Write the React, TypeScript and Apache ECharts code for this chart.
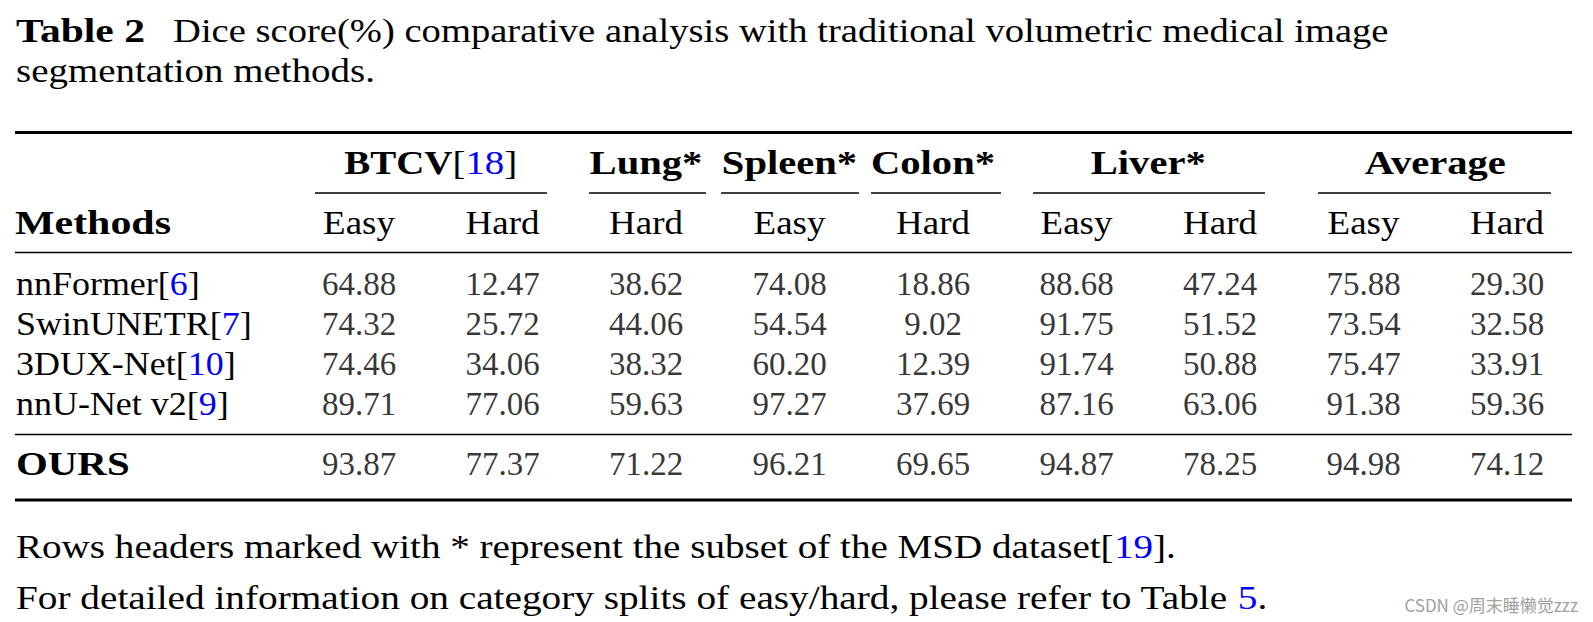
import React, { useEffect, useRef } from "react";
import * as echarts from "echarts";

// ---------- data ----------
const methods = ["nnFormer", "SwinUNETR", "3DUX-Net", "nnU-Net v2"];
const methodRefs = ["6", "7", "10", "9"];
const oursName = ["OURS"];
const groups = ["BTCV", "Lung*", "Spleen*", "Colon*", "Liver*", "Average"];
const groupRefs = ["18", "", "", "", "", ""];
const groupSpans = [2, 1, 1, 1, 2, 2];
const subHeaders = ["Easy", "Hard", "Hard", "Easy", "Hard", "Easy", "Hard", "Easy", "Hard"];
const nnFormer = [64.88, 12.47, 38.62, 74.08, 18.86, 88.68, 47.24, 75.88, 29.3];
const swinUNETR = [74.32, 25.72, 44.06, 54.54, 9.02, 91.75, 51.52, 73.54, 32.58];
const dux3 = [74.46, 34.06, 38.32, 60.2, 12.39, 91.74, 50.88, 75.47, 33.91];
const nnUNetV2 = [89.71, 77.06, 59.63, 97.27, 37.69, 87.16, 63.06, 91.38, 59.36];
const ours = [93.87, 77.37, 71.22, 96.21, 69.65, 94.87, 78.25, 94.98, 74.12];
const captionTitle = "Table 2";
const captionLine1 = "Dice score(%) comparative analysis with traditional volumetric medical image";
const captionLine2 = "segmentation methods.";
const methodsHeader = "Methods";
const note1 = "Rows headers marked with * represent the subset of the MSD dataset";
const note1Ref = "19";
const note2 = "For detailed information on category splits of easy/hard, please refer to Table ";
const note2Ref = "5";
const watermark = "CSDN @周末睡懒觉zzz";

// ---------- layout ----------
const FONT = "'Liberation Serif', 'DejaVu Serif', serif";
const FS = 33;
const BLUE = "#0000ff";
const COL_W = 143.5;
const COL_LEFT = 287.25;
const GRID_W = COL_W * 9;
const RULE_L = 15;
const RULE_R = 1572;
const underlines: [number, number][] = [
  [315, 547], [589, 706], [721, 859], [871, 1001], [1033, 1265], [1318, 1551],
];

export default function App() {
  const ref = useRef<HTMLDivElement>(null);
  useEffect(() => {
    if (!ref.current) return;
    const chart = echarts.init(ref.current, undefined, { renderer: "svg" });
    const baseRows = [nnFormer, swinUNETR, dux3, nnUNetV2];
    const baseData: number[][] = [];
    baseRows.forEach((arr, r) => arr.forEach((v, c) => baseData.push([c, r, v])));
    const oursData = ours.map((v, c) => [c, 0, v]);

    const valueLabel = {
      show: true, position: "inside", color: "#000", fontFamily: FONT, fontSize: FS,
      formatter: (p: any) => Number(p.value[2]).toFixed(2),
    };
    const hiddenAxis = {
      axisLine: { show: false }, axisTick: { show: false }, splitLine: { show: false }, axisLabel: { show: false },
    };

    chart.setOption({
      animation: false,
      backgroundColor: "#fff",
      grid: [
        { left: COL_LEFT, top: 264, width: GRID_W, height: 160 },
        { left: COL_LEFT, top: 444, width: GRID_W, height: 40 },
      ],
      xAxis: [
        { type: "category", gridIndex: 0, data: subHeaders, position: "top", ...hiddenAxis },
        { type: "category", gridIndex: 1, data: subHeaders, ...hiddenAxis },
      ],
      yAxis: [
        { type: "category", gridIndex: 0, data: methods, inverse: true, ...hiddenAxis },
        { type: "category", gridIndex: 1, data: oursName, ...hiddenAxis },
      ],
      series: [
        {
          type: "scatter", xAxisIndex: 0, yAxisIndex: 0, data: baseData, symbolSize: 1,
          itemStyle: { color: "rgba(0,0,0,0)" }, label: valueLabel, silent: true,
        },
        {
          type: "scatter", xAxisIndex: 1, yAxisIndex: 1, data: oursData, symbolSize: 1,
          itemStyle: { color: "rgba(0,0,0,0)" }, label: valueLabel, silent: true,
        },
      ],
    });

    const textStyle = { fontFamily: FONT, fontSize: FS, fill: "#000" };
    const blueRich = { c: { fontFamily: FONT, fontSize: FS, fill: BLUE } };
    const graphic: any[] = [];
    // caption
    graphic.push({
      type: "text", x: 16, y: 31, scaleX: 1.26,
      style: { ...textStyle, text: captionTitle, fontWeight: "bold", verticalAlign: "middle" },
    });
    graphic.push({
      type: "text", x: 173, y: 31, scaleX: 1.17,
      style: { ...textStyle, text: captionLine1, verticalAlign: "middle" },
    });
    graphic.push({
      type: "text", x: 16, y: 71, scaleX: 1.18,
      style: { ...textStyle, text: captionLine2, verticalAlign: "middle" },
    });
    // rules
    const rule = (y: number, w: number) => ({
      type: "line", shape: { x1: RULE_L, y1: y, x2: RULE_R, y2: y }, style: { stroke: "#000", lineWidth: w },
    });
    graphic.push(rule(132.5, 2.8), rule(252.5, 1.7), rule(434.5, 1.7), rule(500, 2.8));
    // group headers
    let start = 0;
    groups.forEach((g, i) => {
      const cx = COL_LEFT + (start + groupSpans[i] / 2) * COL_W;
      start += groupSpans[i];
      const txt = groupRefs[i] ? `{b|${g}}[{c|${groupRefs[i]}}]` : `{b|${g}}`;
      graphic.push({
        type: "text", x: cx, y: 163, scaleX: groupRefs[i] ? 1.18 : 1.23,
        style: {
          ...textStyle, text: txt, align: "center", verticalAlign: "middle",
          rich: {
            b: { fontFamily: FONT, fontSize: FS, fontWeight: "bold", fill: "#000" },
            ...blueRich,
          },
        },
      });
      const [x1, x2] = underlines[i];
      graphic.push({ type: "line", shape: { x1, y1: 193, x2, y2: 193 }, style: { stroke: "#000", lineWidth: 1.3 } });
    });
    // "Methods"
    graphic.push({
      type: "text", x: 15, y: 223, scaleX: 1.27,
      style: { ...textStyle, text: methodsHeader, fontWeight: "bold", verticalAlign: "middle" },
    });
    // sub headers (Easy / Hard), positioned by the category axis
    subHeaders.forEach((s, c) => {
      const px = chart.convertToPixel({ xAxisIndex: 0 }, c) as number;
      graphic.push({
        type: "text", x: px, y: 223, scaleX: 1.12,
        style: { ...textStyle, text: s, align: "center", verticalAlign: "middle" },
      });
    });
    // method names, positioned by the category axis
    methods.forEach((m, r) => {
      const py = chart.convertToPixel({ yAxisIndex: 0 }, r) as number;
      graphic.push({
        type: "text", x: 16, y: py, scaleX: 1.09,
        style: { ...textStyle, text: `${m}[{c|${methodRefs[r]}}]`, verticalAlign: "middle", rich: blueRich },
      });
    });
    oursName.forEach((m, r) => {
      const py = chart.convertToPixel({ yAxisIndex: 1 }, r) as number;
      graphic.push({
        type: "text", x: 16, y: py, scaleX: 1.24,
        style: { ...textStyle, text: m, fontWeight: "bold", verticalAlign: "middle" },
      });
    });
    // footnotes
    graphic.push({
      type: "text", x: 16, y: 547, scaleX: 1.185,
      style: { ...textStyle, text: `${note1}[{c|${note1Ref}}].`, verticalAlign: "middle", rich: blueRich },
    });
    graphic.push({
      type: "text", x: 16, y: 598, scaleX: 1.19,
      style: { ...textStyle, text: `${note2}{c|${note2Ref}}.`, verticalAlign: "middle", rich: blueRich },
    });
    graphic.push({
      type: "text", x: 1578, y: 604,
      style: { text: watermark, fontFamily: "'Noto Sans CJK SC', 'Noto Sans', sans-serif", fontSize: 17, fill: "#a0a0a0", align: "right", verticalAlign: "middle" },
    });

    chart.setOption({ graphic });
    return () => chart.dispose();
  }, []);
  return (
    <div
      ref={ref}
      style={{ position: "fixed", left: 0, top: 0, width: 1593, height: 622, background: "#fff" }}
    />
  );
}
